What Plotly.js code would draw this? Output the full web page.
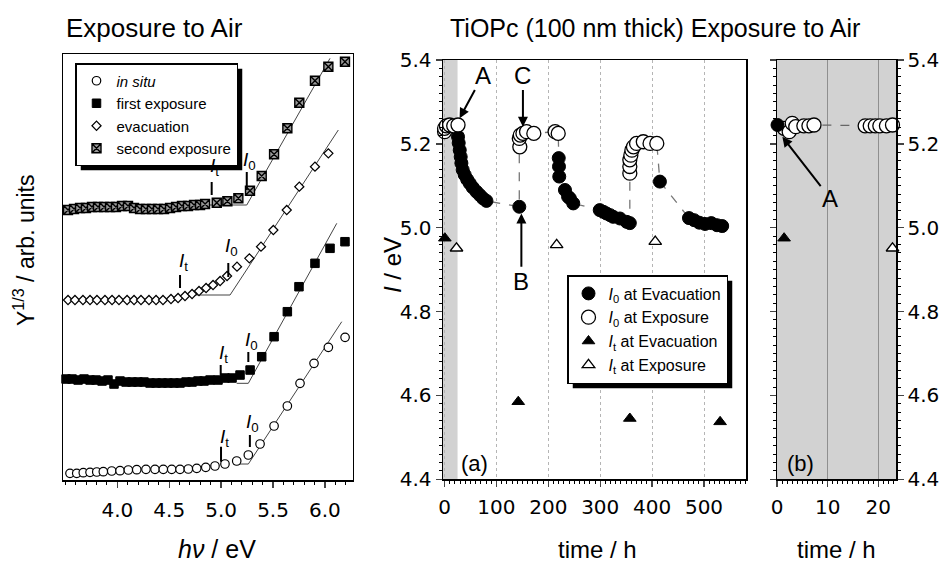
<!DOCTYPE html>
<html>
<head>
<meta charset="utf-8">
<script src="https://cdn.plot.ly/plotly-3.0.1.min.js"></script>
<style>html,body{margin:0;padding:0;background:#fff;}#chart{width:944px;height:564px;}</style>
</head>
<body>
<div id="chart"></div>
<script>
// ---------- Left panel: Y^(1/3) vs hv (arbitrary units) ----------
const inSituX = [3.544,3.609,3.672,3.737,3.802,3.865,3.946,4.026,4.106,4.187,4.276,4.363,4.443,4.524,4.604,4.684,4.765,4.852,4.941,5.037,5.15,5.262,5.375,5.51,5.638,5.76,5.895,6.033,6.194];
const inSituY = [6.7,6.7,7.3,7.7,8,8.3,9,9.3,10,10.3,10.7,10.7,10.7,10.7,10.7,11,11.7,12.7,14,16,19,25,36,54,74,96.7,116.7,132.7,142.7];

const firstX = [3.506,3.564,3.622,3.679,3.737,3.795,3.853,3.910,3.968,4.026,4.084,4.142,4.199,4.257,4.315,4.373,4.431,4.488,4.546,4.604,4.662,4.720,4.777,4.835,4.893,4.970,5.037,5.105,5.182,5.279,5.391,5.510,5.638,5.750,5.904,6.049,6.193];
const firstY = [101,101,100,101,100,100,99,100,96,99,98,98,98,98,97,97,97,97,97,97,98,98,99,99,100,100,102,102,105,110,123.3,143.3,168.3,193.3,216.7,231.7,238.3];

const evacX = [3.525,3.592,3.669,3.737,3.804,3.881,3.949,4.016,4.094,4.161,4.228,4.305,4.373,4.440,4.517,4.585,4.652,4.720,4.787,4.855,4.922,4.990,5.057,5.153,5.272,5.384,5.503,5.632,5.753,5.904,6.033];
const evacY = [180,180,180,180,180,180,180,180,180,180,180,180,180,180,181,182,184,186,189,192,195,199,204,213.3,221.7,233.3,250,270,293.3,313.3,326.7];

const secX = [3.525,3.583,3.641,3.698,3.756,3.814,3.872,3.930,3.987,4.045,4.103,4.161,4.219,4.276,4.334,4.392,4.450,4.508,4.566,4.623,4.681,4.739,4.797,4.845,4.958,5.060,5.166,5.278,5.391,5.510,5.638,5.753,5.904,6.033,6.193];
const secY = [270,271,272,272,273,273,273,273,273,274,274,272,271,271,271,271,271,272,273,274,274,275,275,276,277.3,278.7,281.7,289.3,304,325.7,351.7,377.3,399.3,413.3,418.3];

// linear fits (baseline + rise)
const fitInSituX = [5.118,5.262,6.162], fitInSituY = [16,16,158.3];
const fitFirstX  = [5.150,5.262,6.114], fitFirstY  = [96.7,96.7,256.7];
const fitEvacX   = [4.669,5.086,6.129], fitEvacY   = [185,185,350];
const fitSecX    = [4.765,5.247,6.049], fitSecY    = [275,275,421.7];

// threshold markers It / I0
const thrX      = [4.999,5.277,4.996,5.262,4.604,5.069,4.909,5.247];
const thrY0     = [18.3,33,105,118,192,203,285,290];
const thrY1     = [33.3,45,115,128,205,217,298,308];
const thrLabelY = [42,57,126,139,218,233,313,319];
const thrSub    = ['t','0','t','0','t','0','t','0'];

// ---------- Middle panel (a): I vs time ----------
const exp1T = [0,0,3.5,9.8,17.6,25.9];
const exp1I = [5.229,5.237,5.243,5.245,5.243,5.245];
const evac1T = [25.9,27.2,29.2,31.1,32.4,34.9,38.8,43.6,48.5,54.2,61.4,67.8,74.1,80.7,144];
const evac1I = [5.217,5.202,5.185,5.169,5.154,5.138,5.126,5.115,5.106,5.096,5.086,5.078,5.070,5.064,5.050];
const exp2T = [145,144,146,151,158,172,213,219];
const exp2I = [5.193,5.213,5.221,5.225,5.229,5.225,5.229,5.225];
const evac2T = [220,220.5,221,232,238,241.5,248,299,306,312,319,325,338,351,357];
const evac2I = [5.166,5.146,5.122,5.090,5.074,5.070,5.058,5.042,5.038,5.034,5.030,5.026,5.022,5.014,5.011];
const exp3T = [357,357,357,359,361,364,370,383,396,409];
const exp3I = [5.130,5.146,5.162,5.173,5.185,5.193,5.201,5.205,5.201,5.201];
const evac3T = [415,471,481,491,502,514,525,535];
const evac3I = [5.110,5.023,5.018,5.012,5.009,5.011,5.006,5.004];

const triEvacT = [0.5,142,357,531];
const triEvacI = [4.975,4.585,4.545,4.537];
const triExpT = [23,216,406];
const triExpI = [4.951,4.959,4.967];

// ---------- Right panel (b): first 24 h ----------
const bEvacT = [0.1], bEvacI = [5.245];
const bExpT = [1.4,2.4,3.0,3.7,5.3,6.3,7.3,17.4,18.4,19.4,20.3,21.6,22.8];
const bExpI = [5.237,5.229,5.249,5.241,5.243,5.243,5.245,5.243,5.243,5.243,5.243,5.243,5.245];
const bTriEvacT = [1.4], bTriEvacI = [4.975];
const bTriExpT = [22.8], bTriExpI = [4.951];

// ---------- helpers ----------
const W = 944, H = 564;
const px = v => v / W;
const py = v => 1 - v / H;
const FONT = 'Liberation Sans, Arial, Helvetica, sans-serif';
const WIDE = 'DejaVu Sans, Liberation Sans, sans-serif';

const traces = [];
[[fitInSituX,fitInSituY],[fitFirstX,fitFirstY],[fitEvacX,fitEvacY],[fitSecX,fitSecY]].forEach(f => {
  traces.push({x:f[0], y:f[1], xaxis:'x', yaxis:'y', mode:'lines', showlegend:false,
    line:{color:'#444', width:1}, hoverinfo:'skip'});
});
traces.push({x:inSituX, y:inSituY, xaxis:'x', yaxis:'y', mode:'markers', name:'<i>in situ</i>', legend:'legend',
  marker:{symbol:'circle', size:8.5, color:'white', line:{color:'black', width:1.2}}, cliponaxis:false});
traces.push({x:firstX, y:firstY, xaxis:'x', yaxis:'y', mode:'markers', name:'first exposure', legend:'legend',
  marker:{symbol:'square', size:8.5, color:'black', line:{color:'black', width:1}}, cliponaxis:false});
traces.push({x:evacX, y:evacY, xaxis:'x', yaxis:'y', mode:'markers', name:'evacuation', legend:'legend',
  marker:{symbol:'diamond', size:7, color:'white', line:{color:'black', width:1.2}}, cliponaxis:false});
traces.push({x:secX, y:secY, xaxis:'x', yaxis:'y', mode:'markers', name:'second exposure', legend:'legend',
  marker:{symbol:'square-x', size:9, color:'#9a9a9a', line:{color:'black', width:1.4}}, cliponaxis:false});

const lineT = [].concat(exp1T, evac1T, exp2T, evac2T, exp3T, evac3T);
const lineI = [].concat(exp1I, evac1I, exp2I, evac2I, exp3I, evac3I);
traces.push({x:lineT, y:lineI, xaxis:'x2', yaxis:'y2', mode:'lines', showlegend:false,
  line:{color:'#777', width:1.3, dash:'dash'}, hoverinfo:'skip'});
const bLineT = [].concat(bEvacT, bExpT), bLineI = [].concat(bEvacI, bExpI);
traces.push({x:bLineT, y:bLineI, xaxis:'x3', yaxis:'y3', mode:'lines', showlegend:false,
  line:{color:'#666', width:1.3, dash:'dash'}, hoverinfo:'skip'});

const filledC = {symbol:'circle', size:13, color:'black', line:{color:'black', width:1}};
const openC = {symbol:'circle', size:14, color:'white', line:{color:'black', width:1.3}};
const filledT = {symbol:'triangle-up', size:11, color:'black', line:{color:'black', width:1}};
const openT = {symbol:'triangle-up', size:11, color:'white', line:{color:'black', width:1.3}};

traces.push({x:[].concat(evac1T,evac2T,evac3T), y:[].concat(evac1I,evac2I,evac3I), xaxis:'x2', yaxis:'y2',
  mode:'markers', name:'<i>I</i><sub>0</sub> at Evacuation', legend:'legend2', marker:filledC, cliponaxis:false});
traces.push({x:[].concat(exp1T,exp2T,exp3T), y:[].concat(exp1I,exp2I,exp3I), xaxis:'x2', yaxis:'y2',
  mode:'markers', name:'<i>I</i><sub>0</sub> at Exposure', legend:'legend2', marker:openC, cliponaxis:false});
traces.push({x:triEvacT, y:triEvacI, xaxis:'x2', yaxis:'y2', mode:'markers', name:'<i>I</i><sub>t</sub> at Evacuation',
  legend:'legend2', marker:filledT, cliponaxis:false});
traces.push({x:triExpT, y:triExpI, xaxis:'x2', yaxis:'y2', mode:'markers', name:'<i>I</i><sub>t</sub> at Exposure',
  legend:'legend2', marker:openT, cliponaxis:false});

traces.push({x:bExpT, y:bExpI, xaxis:'x3', yaxis:'y3', mode:'markers', showlegend:false, marker:openC, cliponaxis:false});
traces.push({x:bEvacT, y:bEvacI, xaxis:'x3', yaxis:'y3', mode:'markers', showlegend:false, marker:filledC, cliponaxis:false});
traces.push({x:bTriEvacT, y:bTriEvacI, xaxis:'x3', yaxis:'y3', mode:'markers', showlegend:false, marker:filledT, cliponaxis:false});
traces.push({x:bTriExpT, y:bTriExpI, xaxis:'x3', yaxis:'y3', mode:'markers', showlegend:false, marker:openT, cliponaxis:false});

// ---------- shapes ----------
const shapes = [];
shapes.push({type:'rect', xref:'x2', yref:'y2 domain', x0:-3, x1:25, y0:0, y1:1, fillcolor:'#d2d2d2', line:{width:0}, layer:'below'});
shapes.push({type:'rect', xref:'x3 domain', yref:'y3 domain', x0:0, x1:1, y0:0, y1:1, fillcolor:'#d2d2d2', line:{width:0}, layer:'below'});
thrX.forEach((x,i) => shapes.push({type:'line', xref:'x', yref:'y', x0:x, x1:x, y0:thrY0[i], y1:thrY1[i], line:{color:'black', width:2}}));

// ---------- annotations ----------
const ann = [];
thrX.forEach((x,i) => ann.push({xref:'x', yref:'y', x:x, y:thrLabelY[i], xshift:3, showarrow:false,
  text:'<i>I</i><sub>'+thrSub[i]+'</sub>', font:{size:19, family:FONT}}));
ann.push({xref:'paper', yref:'paper', x:px(64), y:py(28), xanchor:'left', yanchor:'middle', showarrow:false,
  text:'Exposure to Air', font:{size:26, family:FONT}});
ann.push({xref:'paper', yref:'paper', x:px(655), y:py(28), xanchor:'center', yanchor:'middle', showarrow:false,
  text:'TiOPc (100 nm thick) Exposure to Air', font:{size:25, family:FONT}});
ann.push({xref:'paper', yref:'paper', x:px(217), y:py(549), xanchor:'center', yanchor:'middle', showarrow:false,
  text:'<i>hν</i> / eV', font:{size:25, family:FONT}});
ann.push({xref:'paper', yref:'paper', x:px(597), y:py(549), xanchor:'center', yanchor:'middle', showarrow:false,
  text:'time / h', font:{size:24, family:FONT}});
ann.push({xref:'paper', yref:'paper', x:px(836), y:py(549), xanchor:'center', yanchor:'middle', showarrow:false,
  text:'time / h', font:{size:24, family:FONT}});
ann.push({xref:'paper', yref:'paper', x:px(24), y:py(250), xanchor:'center', yanchor:'middle', showarrow:false, textangle:-90,
  text:'Y<sup>1/3</sup> / arb. units', font:{size:23, family:FONT}});
ann.push({xref:'paper', yref:'paper', x:px(392), y:py(265), xanchor:'center', yanchor:'middle', showarrow:false, textangle:-90,
  text:'<i>I</i> / eV', font:{size:24, family:FONT}});
const arrowStyle = {showarrow:true, arrowhead:2, arrowsize:1, arrowwidth:2, arrowcolor:'black', font:{size:24, family:FONT}};
ann.push(Object.assign({xref:'x2', yref:'y2', axref:'x2', ayref:'y2', x:29, y:5.261, ax:74, ay:5.364, text:'A'}, arrowStyle));
ann.push(Object.assign({xref:'x2', yref:'y2', axref:'x2', ayref:'y2', x:151, y:5.241, ax:151, ay:5.364, text:'C'}, arrowStyle));
ann.push(Object.assign({xref:'x2', yref:'y2', axref:'x2', ayref:'y2', x:148, y:5.034, ax:148, ay:4.871, text:'B'}, arrowStyle));
ann.push(Object.assign({xref:'x3', yref:'y3', axref:'x3', ayref:'y3', x:1.06, y:5.217, ax:10.5, ay:5.07, text:'A'}, arrowStyle));
ann.push({xref:'x2', yref:'y2', x:58, y:4.437, showarrow:false, text:'(a)', font:{size:22, family:FONT}});
ann.push({xref:'x3', yref:'y3', x:4.6, y:4.437, showarrow:false, text:'(b)', font:{size:22, family:FONT}});

const tickFont = {size:20, family:WIDE, color:'black'};
const yDom = [0.1502, 0.8936];
const layout = {
  width:W, height:H, margin:{l:0,r:0,t:0,b:0},
  paper_bgcolor:'white', plot_bgcolor:'white',
  font:{family:FONT, color:'black'},
  xaxis:{domain:[0.0671,0.3739], range:[3.48,6.27], anchor:'y', tickmode:'array',
    tickvals:[4,4.5,5,5.5,6], ticktext:['4.0','4.5','5.0','5.5','6.0'], ticks:'outside', ticklen:6, tickwidth:1.3,
    minor:{dtick:0.1, tick0:3.5, ticks:'outside', ticklen:3, tickwidth:1, tickcolor:'black'},
    ticklabelstandoff:5, tickfont:tickFont,
    showline:true, linewidth:1.5, linecolor:'black', mirror:true, showgrid:false, zeroline:false},
  yaxis:{domain:[0.1489,0.9037], range:[0,425.7], anchor:'x', showticklabels:false, ticks:'',
    showline:true, linewidth:1.5, linecolor:'black', mirror:true, showgrid:false, zeroline:false},
  xaxis2:{domain:[0.4693,0.7903], range:[-3,581], anchor:'y2', tickmode:'array', tickvals:[0,100,200,300,400,500],
    ticks:'outside', ticklen:6, tickwidth:1.3, minor:{dtick:10, tick0:0, ticks:'outside', ticklen:3, tickwidth:1, tickcolor:'black'},
    ticklabelstandoff:3, tickfont:tickFont,
    showgrid:true, gridcolor:'#b5b5b5', griddash:'dot', gridwidth:1,
    showline:true, linewidth:1.5, linecolor:'black', mirror:true, zeroline:false},
  yaxis2:{domain:yDom, range:[4.4,5.4], anchor:'x2', tickmode:'linear', tick0:4.4, dtick:0.2, tickformat:'.1f',
    ticks:'outside', ticklen:6, tickwidth:1.3, minor:{dtick:0.02, tick0:4.4, ticks:'outside', ticklen:3, tickwidth:1, tickcolor:'black'},
    tickfont:tickFont, showgrid:false, showline:true, linewidth:1.5, linecolor:'black', mirror:true, zeroline:false},
  xaxis3:{domain:[0.8231,0.9492], range:[0,23.5], anchor:'y3', tickmode:'array', tickvals:[0,10,20],
    ticks:'outside', ticklen:6, tickwidth:1.3, minor:{dtick:1, tick0:0, ticks:'outside', ticklen:3, tickwidth:1, tickcolor:'black'},
    ticklabelstandoff:3, tickfont:tickFont,
    showgrid:true, gridcolor:'#8f8f8f', gridwidth:1,
    showline:true, linewidth:1.5, linecolor:'black', mirror:true, zeroline:false},
  yaxis3:{domain:yDom, range:[4.4,5.4], anchor:'x3', side:'right', tickmode:'linear', tick0:4.4, dtick:0.2, tickformat:'.1f',
    ticks:'outside', ticklen:6, tickwidth:1.3, minor:{dtick:0.02, tick0:4.4, ticks:'outside', ticklen:3, tickwidth:1, tickcolor:'black'},
    tickfont:tickFont, showgrid:false, showline:true, linewidth:1.5, linecolor:'black', mirror:'allticks', zeroline:false},
  legend:{x:px(75), y:py(63), xanchor:'left', yanchor:'top', bgcolor:'white', bordercolor:'black', borderwidth:1.5,
    font:{size:15, family:FONT}, tracegroupgap:0, itemclick:false, entrywidthmode:'pixels', entrywidth:130},
  legend2:{x:px(567), y:py(275), xanchor:'left', yanchor:'top', bgcolor:'white', bordercolor:'black', borderwidth:1.5,
    font:{size:16, family:FONT}, tracegroupgap:0, itemclick:false},
  shapes:shapes, annotations:ann, showlegend:true
};

Plotly.newPlot('chart', traces, layout, {staticPlot:true, displayModeBar:false}).then(gd => {
  // drop shadows behind the two legend boxes, sized from the drawn legends
  const root = gd.getBoundingClientRect();
  const extra = [];
  ['legend','legend2'].forEach(id => {
    const r = gd.querySelector('g.' + id + ' rect.bg');
    if (!r) return;
    const b = r.getBoundingClientRect();
    extra.push({type:'rect', xref:'paper', yref:'paper',
      x0:(b.left - root.left + 5) / W, x1:(b.right - root.left + 5) / W,
      y0:1 - (b.bottom - root.top + 5) / H, y1:1 - (b.top - root.top + 5) / H,
      fillcolor:'black', line:{width:0}, layer:'above'});
  });
  return Plotly.relayout(gd, {shapes: shapes.concat(extra)});
});
</script>
</body>
</html>
